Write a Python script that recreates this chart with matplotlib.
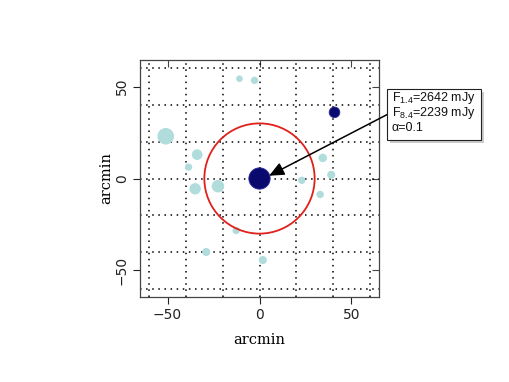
import matplotlib
matplotlib.use("Agg")
import matplotlib.pyplot as plt
from matplotlib.patches import Circle, Rectangle

plt.rcParams["mathtext.fontset"] = "custom"
plt.rcParams["mathtext.rm"] = "Liberation Sans"
plt.rcParams["mathtext.it"] = "Liberation Sans:italic"

# ---- data (arcmin) ----
src_x = [-51.0, -10.9, -2.7, -33.9, -38.6, -35.0, -22.6, -12.7, -29.0, 1.8, 23.0, 34.4, 39.0, 33.0]
src_y = [23.0, 54.3, 53.4, 13.0, 6.2, -5.6, -4.2, -28.3, -40.0, -44.4, -1.0, 11.2, 2.0, -8.7]
src_r = [4.5, 1.8, 2.0, 2.9, 2.0, 3.1, 3.4, 2.0, 2.2, 2.2, 2.0, 2.3, 2.2, 2.0]
bright_x = [0.0, 40.8]
bright_y = [0.0, 36.0]
bright_r = [5.8, 2.9]
beam_radius = 30.0
grid_vals = [-60, -40, -20, 0, 20, 40, 60]
tick_vals = [-50, 0, 50]
tick_labels = ["\u221250", "0", "50"]
info_lines = [r"F$_{\mathrm{1.4}}$=2642 mJy", r"F$_{\mathrm{8.4}}$=2239 mJy", "\u03b1=0.1"]

W, H = 509, 382
fig = plt.figure(figsize=(W / 100, H / 100), dpi=100)
ax = fig.add_axes([140 / W, 1 - 297 / H, 239 / W, 237 / H])
ax.set_xlim(-65, 65)
ax.set_ylim(-64.5, 64.5)

for g in grid_vals:
    ax.axvline(g, color="black", lw=1.1, ls=(0, (1, 3)), zorder=1)
    ax.axhline(g, color="black", lw=1.1, ls=(0, (1, 3)), zorder=1)

for x, y, r in zip(src_x, src_y, src_r):
    ax.add_patch(Circle((x, y), r, facecolor="#b0dcdc", edgecolor="none", zorder=3))
for x, y, r in zip(bright_x, bright_y, bright_r):
    ax.add_patch(Circle((x, y), r, facecolor="#0a0a6e", edgecolor="#2a2a9a", lw=0.6, zorder=4))

ax.add_patch(Circle((0, 0), beam_radius, facecolor="none", edgecolor="#e0201b", lw=1.3, zorder=5))

ax.annotate("", xy=(5.2, 1.5), xytext=(69.8, 35.0),
            arrowprops=dict(arrowstyle="-|>,head_length=0.9,head_width=0.4",
                            color="black", lw=1.1, shrinkA=0, shrinkB=0),
            annotation_clip=False, zorder=6)

ax.set_xticks(tick_vals)
ax.set_xticklabels(tick_labels)
ax.set_yticks(tick_vals)
ax.set_yticklabels(tick_labels, rotation=90, va="center")
ax.tick_params(axis="both", direction="out", length=5, width=0.8, labelsize=10,
               colors="#222222", pad=3)
for sp in ax.spines.values():
    sp.set_color("#444444")
    sp.set_linewidth(0.9)

# inward ticks on top and right
sx = ax.secondary_xaxis("top")
sx.set_xticks(tick_vals)
sx.tick_params(direction="in", length=5, width=0.8, labeltop=False, colors="#444444")
sy = ax.secondary_yaxis("right")
sy.set_yticks(tick_vals)
sy.tick_params(direction="in", length=5, width=0.8, labelright=False, colors="#444444")
for s in (sx, sy):
    for sp in s.spines.values():
        sp.set_visible(False)

ax.set_xlabel("arcmin", family="DejaVu Serif", fontsize=10.5, labelpad=8)
ax.set_ylabel("arcmin", family="DejaVu Serif", fontsize=10.5, labelpad=1)

# info box with shadow (figure pixel coordinates)
def fx(px):
    return px / W

def fy(py):
    return 1 - py / H

fig.patches.append(Rectangle((fx(390), fy(143)), (484 - 390) / W, (143 - 92) / H,
                             transform=fig.transFigure, facecolor="#aaaaaa",
                             edgecolor="none", alpha=0.6))
fig.patches.append(Rectangle((fx(387), fy(140)), (481 - 387) / W, (140 - 89) / H,
                             transform=fig.transFigure, facecolor="white",
                             edgecolor="#222222", lw=0.8))
for i, line in enumerate(info_lines):
    fig.text(fx(392), fy(98 + 15 * i), line, family="Liberation Sans", fontsize=9,
             va="center", ha="left", color="#111111")

fig.savefig("out.png", dpi=100)
